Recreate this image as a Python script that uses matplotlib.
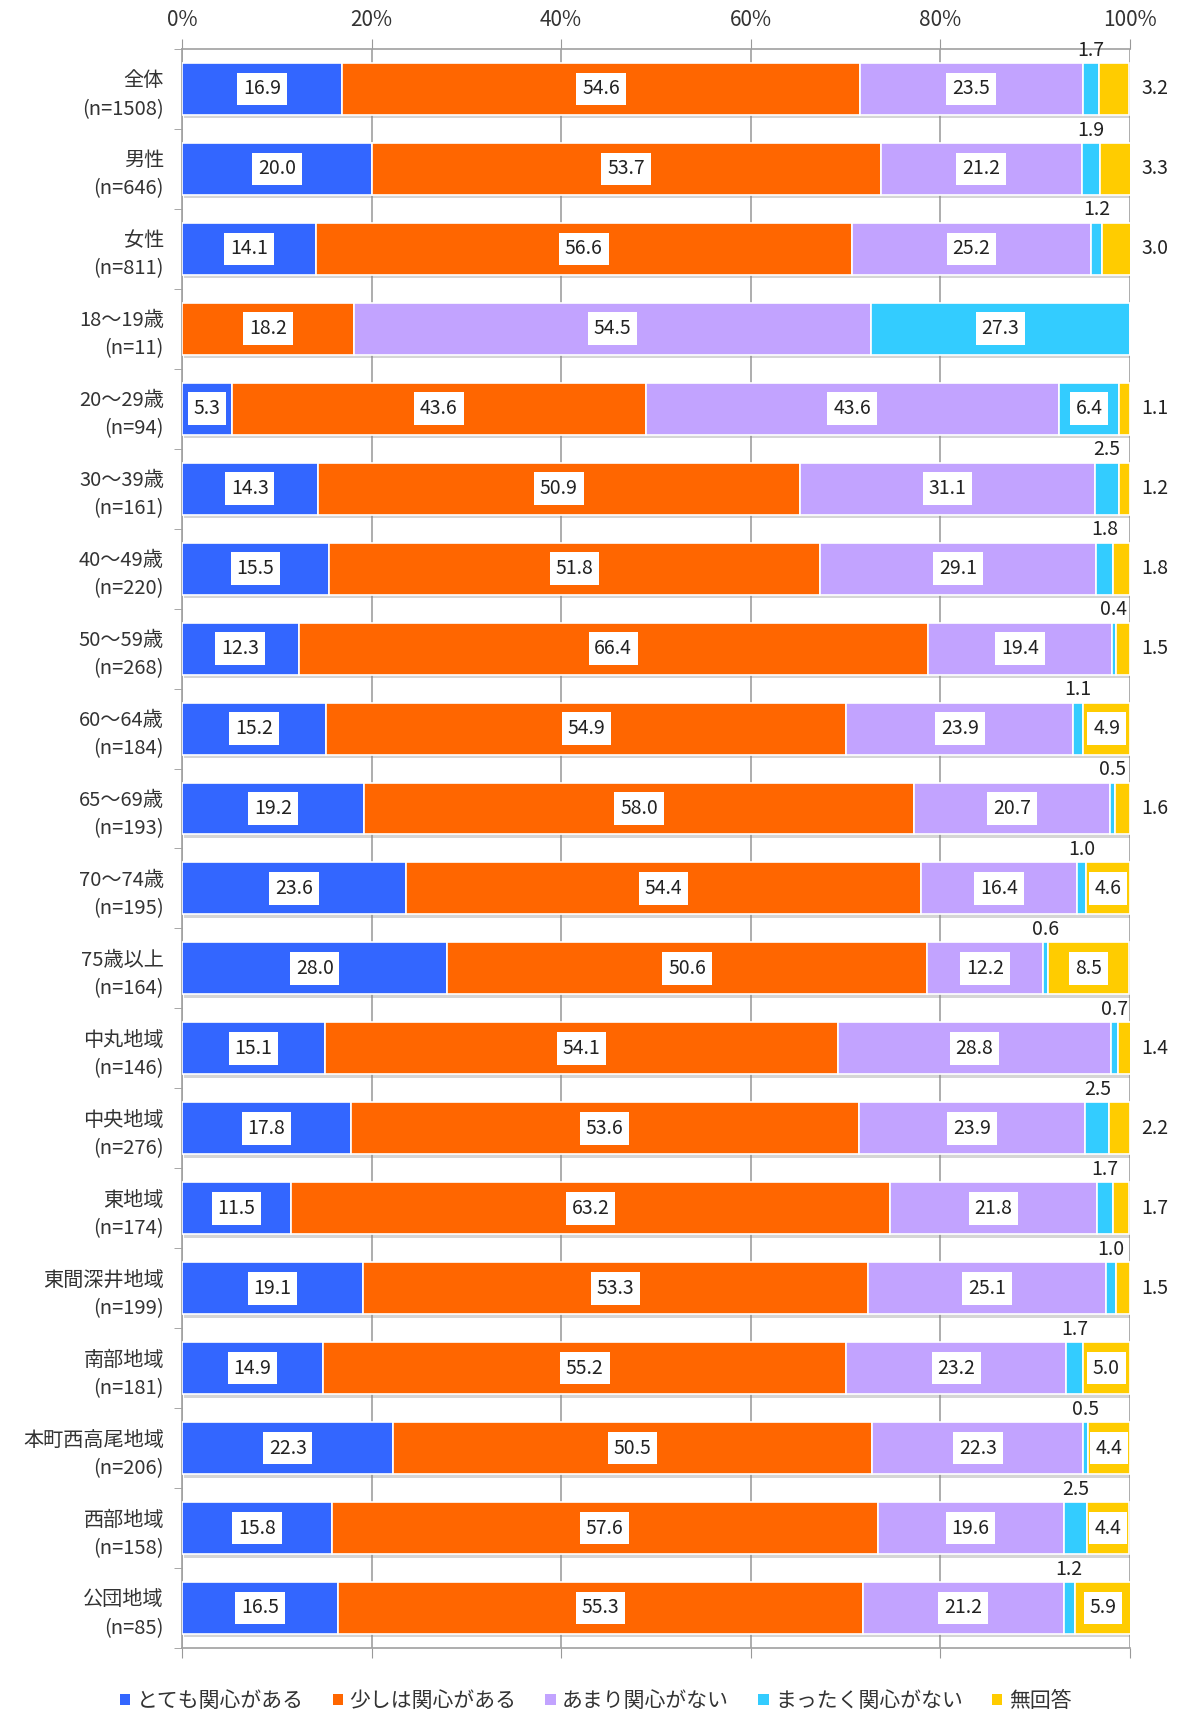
import numpy as np
import matplotlib
matplotlib.use('Agg')
import matplotlib.pyplot as plt
import matplotlib.patheffects as pe
from matplotlib.patches import Patch

plt.rcParams['font.family'] = ['Noto Sans CJK JP', 'DejaVu Sans']

categories = ['全体\n(n=1508)', '男性\n(n=646)', '女性\n(n=811)',
              '18〜19歳\n(n=11)', '20〜29歳\n(n=94)', '30〜39歳\n(n=161)',
              '40〜49歳\n(n=220)', '50〜59歳\n(n=268)', '60〜64歳\n(n=184)',
              '65〜69歳\n(n=193)', '70〜74歳\n(n=195)', '75歳以上\n(n=164)',
              '中丸地域\n(n=146)', '中央地域\n(n=276)', '東地域\n(n=174)',
              '東間深井地域\n(n=199)', '南部地域\n(n=181)', '本町西高尾地域\n(n=206)',
              '西部地域\n(n=158)', '公団地域\n(n=85)']

series_names = ['とても関心がある', '少しは関心がある', 'あまり関心がない',
                'まったく関心がない', '無回答']

very = [16.9, 20.0, 14.1, 0, 5.3, 14.3, 15.5, 12.3, 15.2, 19.2,
        23.6, 28.0, 15.1, 17.8, 11.5, 19.1, 14.9, 22.3, 15.8, 16.5]
some = [54.6, 53.7, 56.6, 18.2, 43.6, 50.9, 51.8, 66.4, 54.9, 58.0,
        54.4, 50.6, 54.1, 53.6, 63.2, 53.3, 55.2, 50.5, 57.6, 55.3]
little = [23.5, 21.2, 25.2, 54.5, 43.6, 31.1, 29.1, 19.4, 23.9, 20.7,
          16.4, 12.2, 28.8, 23.9, 21.8, 25.1, 23.2, 22.3, 19.6, 21.2]
none_ = [1.7, 1.9, 1.2, 27.3, 6.4, 2.5, 1.8, 0.4, 1.1, 0.5,
         1.0, 0.6, 0.7, 2.5, 1.7, 1.0, 1.7, 0.5, 2.5, 1.2]
noans = [3.2, 3.3, 3.0, 0, 1.1, 1.2, 1.8, 1.5, 4.9, 1.6,
         4.6, 8.5, 1.4, 2.2, 1.7, 1.5, 5.0, 4.4, 4.4, 5.9]

colors = ['#3366FF', '#FF6600', '#C2A3FF', '#33CCFF', '#FFCC00']

data = np.array([very, some, little, none_, noans])
y = np.arange(len(categories))

fig = plt.figure(figsize=(11.77, 17.12), dpi=100)
ax = fig.add_axes([0.1546, 0.0374, 0.8054, 0.934])

bar_h = 0.65
shadow = [pe.SimplePatchShadow(offset=(1.5, -2.5), shadow_rgbFace='#888888', alpha=0.35), pe.Normal()]
left = np.zeros(len(categories))
for k in range(5):
    bars = ax.barh(y, data[k], left=left, height=bar_h, color=colors[k],
                   edgecolor='white', linewidth=1.2, zorder=3)
    for b in bars:
        b.set_path_effects(shadow)
    for i in range(len(categories)):
        v = data[k][i]
        if v == 0:
            continue
        cx = left[i] + v / 2
        box = dict(boxstyle='square,pad=0.3', fc='white', ec='none')
        if k < 3 or v >= 4:
            ax.text(cx, y[i], f'{v:.1f}', ha='center', va='center', fontsize=14,
                    color='#222222', bbox=box, zorder=5)
        elif k == 3:
            ax.text(cx, y[i] - bar_h / 2 - 0.03, f'{v:.1f}', ha='center', va='bottom',
                    fontsize=14, color='#222222', zorder=5)
        else:
            ax.text(102.6, y[i], f'{v:.1f}', ha='center', va='center', fontsize=14,
                    color='#222222', clip_on=False, zorder=5)
    left = left + data[k]

ax.set_xlim(0, 100)
ax.set_ylim(len(categories) - 0.5, -0.5)

ax.set_xticks(np.arange(0, 101, 20))
ax.set_xticklabels([f'{t}%' for t in range(0, 101, 20)], fontsize=15, color='#333333')
ax.tick_params(axis='x', top=True, bottom=True, labeltop=True, labelbottom=False,
               direction='out', length=7, color='#999999', pad=6)
ax.xaxis.grid(True, color='#A0A0A0', linewidth=1.2, zorder=0)
ax.set_axisbelow(True)

ax.set_yticks(y)
ax.set_yticklabels(categories, fontsize=14.5, color='#333333', linespacing=1.45)
ax.set_yticks(np.arange(-0.5, len(categories), 1), minor=True)
ax.tick_params(axis='y', which='major', length=0, pad=13)
ax.tick_params(axis='y', which='minor', length=6, color='#999999', direction='out')

for s in ['top', 'left', 'bottom']:
    ax.spines[s].set_color('#A0A0A0')
    ax.spines[s].set_linewidth(1.2)
ax.spines['right'].set_visible(False)

handles = [Patch(facecolor=c, edgecolor='none') for c in colors]
fig.legend(handles, series_names, loc='center', bbox_to_anchor=(0.506, 0.0065),
           ncol=5, frameon=False, fontsize=15, handlelength=0.5, handleheight=0.5,
           handletextpad=0.3, columnspacing=1.4, labelcolor='#333333')

fig.savefig('out.png', dpi=100)
